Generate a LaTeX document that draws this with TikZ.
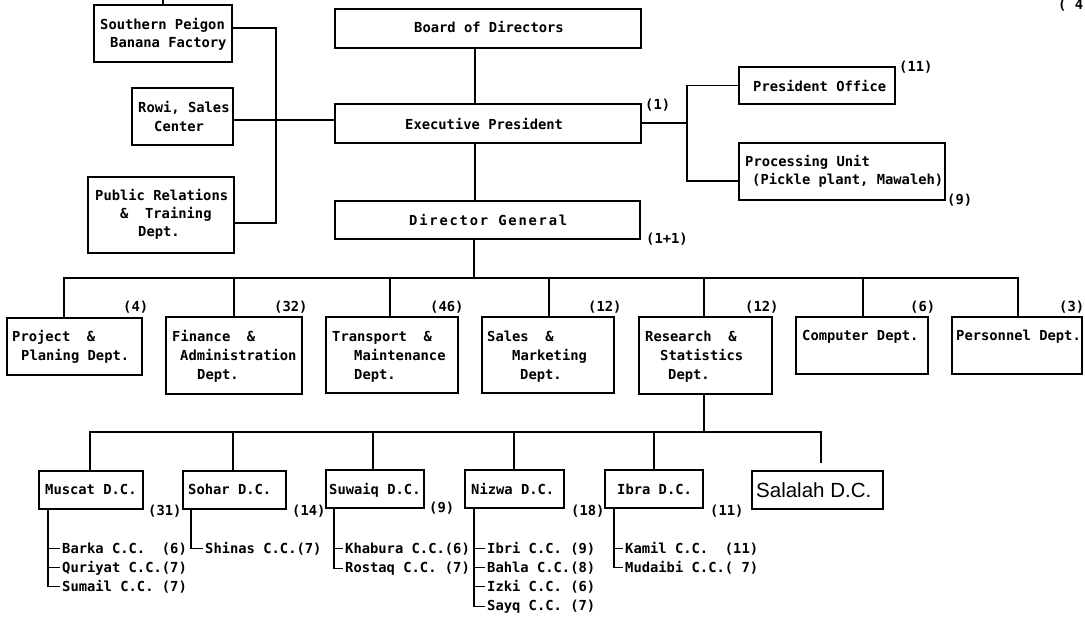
\documentclass[tikz,border=0pt]{standalone}
\usepackage{fontspec}
\newfontfamily\dmono{DejaVu Sans Mono}
\newfontfamily\dmwide[LetterSpace=13]{DejaVu Sans Mono}
\newfontfamily\lsans{Liberation Sans}
\tikzset{
  box/.style={draw, line width=1.6pt, inner sep=0pt},
  txt/.style={inner sep=0pt, anchor=base west, font=\dmono\bfseries\fontsize{13.8}{17}\selectfont},
  conn/.style={line width=1.4pt},
  sub/.style={line width=1.2pt},
  tick/.style={line width=1.2pt, shorten >=2pt},
}
\newcommand\mkbox[5]{\node[box, minimum width={(#4-#2)*1pt}, minimum height={(#5-#3)*1pt}] (#1) at ({(#2+#4)/2},{(#3+#5)/2}) {};}
\newcommand\tx[4]{\node[txt] (#1) at (#2,#3) {#4};}
\begin{document}
\begin{tikzpicture}[x=1pt,y=-1pt]
\fill[white] (0,0) rectangle (1085,617);
\useasboundingbox (0,0) rectangle (1085,617);
% boxes
\mkbox{sp}{94}{5}{232}{62}
\mkbox{rowi}{132}{88}{233}{145}
\mkbox{pr}{88}{177}{234}{253}
\mkbox{bod}{335}{9}{641}{48}
\mkbox{ep}{335}{104}{641}{143}
\mkbox{dg}{335}{201}{640}{239}
\mkbox{po}{739}{67}{895}{104}
\mkbox{pu}{739}{143}{945}{200}
\mkbox{proj}{7}{318}{142}{375}
\mkbox{fin}{166}{317}{302}{394}
\mkbox{trans}{326}{317}{458}{393}
\mkbox{sales}{482}{317}{614}{393}
\mkbox{res}{639}{317}{772}{394}
\mkbox{comp}{796}{317}{928}{374}
\mkbox{pers}{952}{317}{1082}{374}
\mkbox{mus}{39}{471}{143}{509}
\mkbox{soh}{183}{471}{286}{509}
\mkbox{suw}{326}{470}{424}{508}
\mkbox{niz}{465}{470}{564}{508}
\mkbox{ibr}{605}{470}{703}{508}
\mkbox{sal}{752}{471}{883}{509}
% texts
\tx{tspa}{100}{30}{Southern Peigon}
\tx{tspb}{110}{48}{Banana Factory}
\tx{trwa}{138}{113}{Rowi, Sales}
\tx{trwb}{154}{132}{Center}
\tx{tpra}{95}{201}{Public Relations}
\tx{tprb}{120}{219}{\&~~Training}
\tx{tprc}{138}{237}{Dept.}
\tx{tbod}{414}{33}{Board of Directors}
\tx{tep}{405}{130}{Executive President}
\node[txt, font=\dmwide\bfseries\fontsize{13.8}{17}\selectfont] (tdg) at (409,226) {Director General};
\tx{tpo}{753}{92}{President Office}
\tx{tpua}{745}{167}{Processing Unit}
\tx{tpub}{752}{185}{(Pickle plant, Mawaleh)}
\tx{nep}{645}{110}{(1)}
\tx{npo}{899}{72}{(11)}
\tx{npu}{947}{205}{(9)}
\tx{ndg}{646}{244}{(1+1)}
\tx{ntop}{1058}{10}{(~4}
% departments
\tx{tpja}{12}{342}{Project~~\&}
\tx{tpjb}{21}{361}{Planing Dept.}
\tx{tfia}{172}{342}{Finance~~\&}
\tx{tfib}{180}{361}{Administration}
\tx{tfic}{197}{380}{Dept.}
\tx{ttra}{332}{342}{Transport~~\&}
\tx{ttrb}{354}{361}{Maintenance}
\tx{ttrc}{354}{380}{Dept.}
\tx{tsaa}{487}{342}{Sales~~\&}
\tx{tsab}{512}{361}{Marketing}
\tx{tsac}{520}{380}{Dept.}
\tx{trea}{645}{342}{Research~~\&}
\tx{treb}{660}{361}{Statistics}
\tx{trec}{668}{380}{Dept.}
\tx{tco}{802}{341}{Computer Dept.}
\tx{tpe}{956}{341}{Personnel Dept.}
\tx{dproj}{123}{312}{(4)}
\tx{dfin}{274}{312}{(32)}
\tx{dtrans}{430}{312}{(46)}
\tx{dsales}{588}{312}{(12)}
\tx{dres}{745}{312}{(12)}
\tx{dcomp}{910}{312}{(6)}
\tx{dpers}{1059}{312}{(3)}
% district centres
\tx{tmu}{45}{495}{Muscat D.C.}
\tx{tso}{188}{495}{Sohar D.C.}
\tx{tsw}{329}{495}{Suwaiq D.C.}
\tx{tni}{471}{495}{Nizwa D.C.}
\tx{tib}{617}{495}{Ibra D.C.}
\node[inner sep=0pt, anchor=base west, font=\lsans\fontsize{20.5}{24}\selectfont] (tsal) at (756,497) {Salalah D.C.};
\tx{cmu}{148}{515}{(31)}
\tx{cso}{292}{515}{(14)}
\tx{csw}{429}{513}{(9)}
\tx{cni}{571}{515}{(18)}
\tx{cib}{710}{515}{(11)}
% sub centres
\tx{sa}{62}{553}{Barka C.C.~~(6)}
\tx{sb}{62}{572}{Quriyat C.C.(7)}
\tx{sc}{62}{591}{Sumail C.C.~(7)}
\tx{sd}{205}{553}{Shinas C.C.(7)}
\tx{se}{345}{553}{Khabura C.C.(6)}
\tx{sf}{345}{572}{Rostaq C.C.~(7)}
\tx{sg}{487}{553}{Ibri C.C.~(9)}
\tx{sh}{487}{572}{Bahla C.C.(8)}
\tx{si}{487}{591}{Izki C.C.~(6)}
\tx{sj}{487}{610}{Sayq C.C.~(7)}
\tx{sk}{625}{553}{Kamil C.C.~~(11)}
\tx{sl}{625}{572}{Mudaibi C.C.(~7)}
% connectors: top part
\coordinate (topend) at (163,0);
\draw[conn] (163,0 |- sp.north) -- (topend);
\draw[conn] (sp.east |- 0,28) -- (276,28) -- (276,223) -- (pr.east |- 0,223);
\draw[conn] (rowi.east |- 0,120) -- (ep.west |- 0,120);
\draw[conn] (475,0 |- bod.south) -- (475,0 |- ep.north);
\draw[conn] (475,0 |- ep.south) -- (475,0 |- dg.north);
\draw[conn] (ep.east |- 0,123) -- (687,123);
\draw[conn] (po.west) -- (687,0 |- po.west) -- (687,181) -- (pu.west |- 0,181);
% departments
\draw[conn] (474,0 |- dg.south) -- (474,278);
\draw[conn] (64,0 |- proj.north) |- (1018,278) -- (1018,0 |- pers.north);
\draw[conn] (234,278) -- (234,0 |- fin.north);
\draw[conn] (390,278) -- (390,0 |- trans.north);
\draw[conn] (549,278) -- (549,0 |- sales.north);
\draw[conn] (704,278) -- (704,0 |- res.north);
\draw[conn] (863,278) -- (863,0 |- comp.north);
% district centres
\coordinate (salend) at (821,463);
\draw[conn] (704,0 |- res.south) -- (704,432);
\draw[conn] (90,0 |- mus.north) |- (821,432) -- (salend);
\draw[conn] (233,432) -- (233,0 |- soh.north);
\draw[conn] (373,432) -- (373,0 |- suw.north);
\draw[conn] (514,432) -- (514,0 |- niz.north);
\draw[conn] (654,432) -- (654,0 |- ibr.north);
% sub lists
\draw[sub, shorten >=2pt] (48,0 |- mus.south) |- (sc.west);
\draw[tick] (48,0 |- sa.west) -- (sa.west);
\draw[tick] (48,0 |- sb.west) -- (sb.west);
\draw[sub, shorten >=2pt] (191,0 |- soh.south) |- (sd.west);
\draw[sub, shorten >=2pt] (334,0 |- suw.south) |- (sf.west);
\draw[tick] (334,0 |- se.west) -- (se.west);
\draw[sub, shorten >=2pt] (474,0 |- niz.south) |- (sj.west);
\draw[tick] (474,0 |- sg.west) -- (sg.west);
\draw[tick] (474,0 |- sh.west) -- (sh.west);
\draw[tick] (474,0 |- si.west) -- (si.west);
\draw[sub, shorten >=2pt] (614,0 |- ibr.south) |- (sl.west);
\draw[tick] (614,0 |- sk.west) -- (sk.west);
\end{tikzpicture}
\end{document}
